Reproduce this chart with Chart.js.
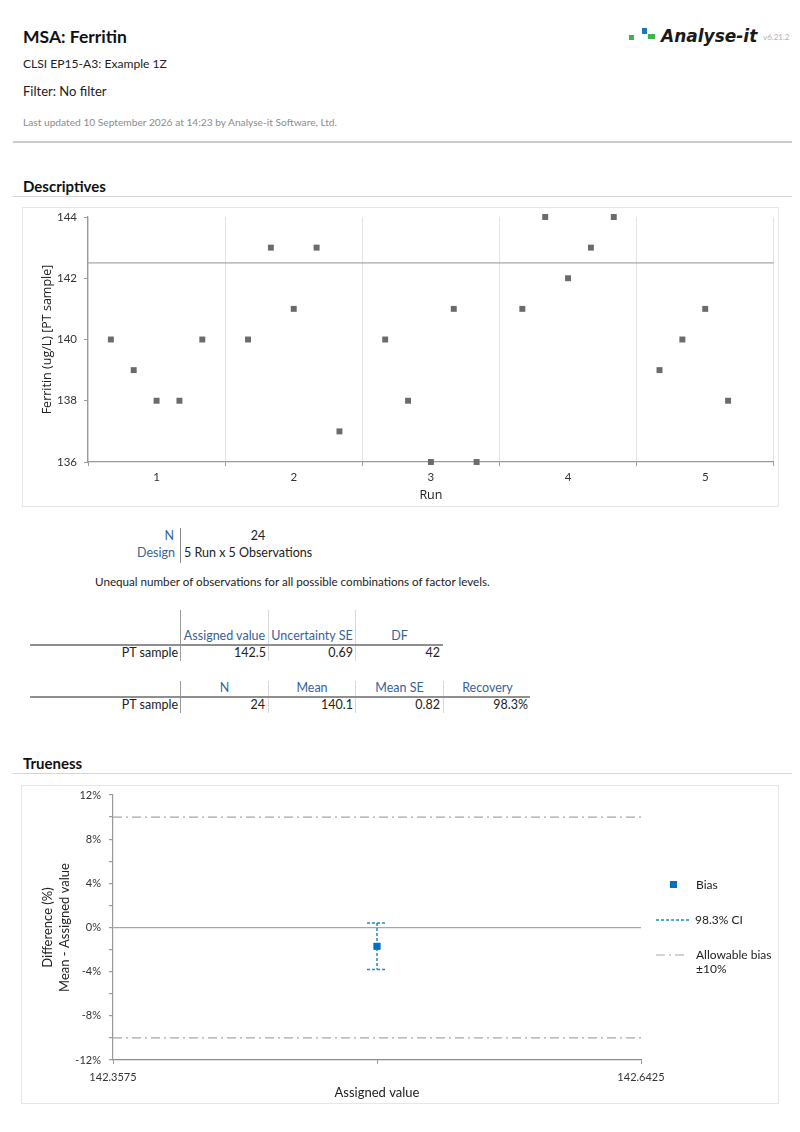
<!DOCTYPE html>
<html>
<head>
<meta charset="utf-8">
<script src="https://cdn.jsdelivr.net/npm/chart.js@4.4.1/dist/chart.umd.min.js"></script>
<style>
  html, body { margin:0; padding:0; background:#fff; }
  #page { position:relative; width:800px; height:1132px; overflow:hidden; font-family:Lato, "Open Sans", sans-serif; color:#222; }
  .t { position:absolute; white-space:nowrap; line-height:16px; height:16px; }
  .r { text-align:right; }
  .c { text-align:center; }
  .blue { color:#36639a; }
  .hl { position:absolute; }
  .box { position:absolute; border:1px solid #e6e6e6; box-sizing:border-box; }
  canvas { position:absolute; }
</style>
</head>
<body>
<div id="page">
  <!-- header -->
  <div class="t" style="left:23px;top:27px;line-height:20px;height:20px;font-size:17.5px;font-weight:700;color:#111;">MSA: Ferritin</div>
  <div class="hl" style="left:629px;top:35px;width:5px;height:5px;background:#3cb44b;"></div>
  <div class="hl" style="left:642px;top:28px;width:5px;height:6px;background:#1b76c4;"></div>
  <div class="hl" style="left:648px;top:34px;width:7px;height:5px;background:#3cb44b;"></div>
  <div class="t" style="left:661px;top:26px;line-height:20px;height:20px;font-size:17px;font-family:'DejaVu Sans';font-weight:700;font-style:oblique;color:#1a1a1a;">Analyse-it</div>
  <div class="t" style="left:763px;top:31px;font-size:8px;line-height:12px;color:#b0b0b0;">v6.21.2</div>
  <div class="t" style="left:23px;top:56px;font-size:12.1px;">CLSI EP15-A3: Example 1Z</div>
  <div class="t" style="left:23px;top:83px;font-size:13px;">Filter: No filter</div>
  <div class="t" style="left:23px;top:114px;font-size:10.2px;color:#8c8c8c;">Last updated 10 September 2026 at 14:23 by Analyse-it Software, Ltd.</div>
  <div class="hl" style="left:13px;top:141px;width:779px;height:2px;background:#cccccc;"></div>

  <div class="t" style="left:23px;top:177px;line-height:18px;height:18px;font-size:15px;font-weight:700;color:#111;">Descriptives</div>
  <div class="hl" style="left:13px;top:196px;width:779px;height:1px;background:#d6d6d6;"></div>

  <div class="box" style="left:22px;top:207px;width:757px;height:300px;"></div>
  <canvas id="c1" width="755" height="298" style="left:23px;top:208px;"></canvas>

  <!-- N / Design -->
  <div class="t r blue" style="left:100px;width:74px;top:528px;font-size:12.5px;">N</div>
  <div class="hl" style="left:180px;top:528px;width:1px;height:35px;background:#8a8a8a;"></div>
  <div class="t c" style="left:181px;width:154px;top:528px;font-size:12.5px;">24</div>
  <div class="t r blue" style="left:100px;width:75px;top:545px;font-size:12.5px;">Design</div>
  <div class="t" style="left:184px;top:545px;font-size:12.5px;">5 Run x 5 Observations</div>
  <div class="t" style="left:95px;top:574px;font-size:11.65px;">Unequal number of observations for all possible combinations of factor levels.</div>

  <!-- table 1 -->
  <div class="hl" style="left:180px;top:610px;width:1px;height:51px;background:#9a9a9a;"></div>
  <div class="hl" style="left:268px;top:610px;width:1px;height:51px;background:#d8d8d8;"></div>
  <div class="hl" style="left:355px;top:610px;width:1px;height:51px;background:#d8d8d8;"></div>
  <div class="hl" style="left:30px;top:644px;width:413px;height:2px;background:#8f8f8f;"></div>
  <div class="t c blue" style="left:181px;width:87px;top:628px;font-size:12.5px;">Assigned value</div>
  <div class="t c blue" style="left:269px;width:86px;top:628px;font-size:12.5px;">Uncertainty SE</div>
  <div class="t c blue" style="left:356px;width:87px;top:628px;font-size:12.5px;">DF</div>
  <div class="t r" style="left:60px;width:118px;top:645px;font-size:12.5px;">PT sample</div>
  <div class="t r" style="left:181px;width:85px;top:645px;font-size:12.5px;">142.5</div>
  <div class="t r" style="left:269px;width:84px;top:645px;font-size:12.5px;">0.69</div>
  <div class="t r" style="left:356px;width:84px;top:645px;font-size:12.5px;">42</div>

  <!-- table 2 -->
  <div class="hl" style="left:180px;top:681px;width:1px;height:32px;background:#9a9a9a;"></div>
  <div class="hl" style="left:268px;top:681px;width:1px;height:32px;background:#d8d8d8;"></div>
  <div class="hl" style="left:355px;top:681px;width:1px;height:32px;background:#d8d8d8;"></div>
  <div class="hl" style="left:443px;top:681px;width:1px;height:32px;background:#d8d8d8;"></div>
  <div class="hl" style="left:30px;top:696px;width:500px;height:2px;background:#8f8f8f;"></div>
  <div class="t c blue" style="left:181px;width:87px;top:680px;font-size:12.5px;">N</div>
  <div class="t c blue" style="left:269px;width:86px;top:680px;font-size:12.5px;">Mean</div>
  <div class="t c blue" style="left:356px;width:87px;top:680px;font-size:12.5px;">Mean SE</div>
  <div class="t c blue" style="left:444px;width:87px;top:680px;font-size:12.5px;">Recovery</div>
  <div class="t r" style="left:60px;width:118px;top:697px;font-size:12.5px;">PT sample</div>
  <div class="t r" style="left:181px;width:84px;top:697px;font-size:12.5px;">24</div>
  <div class="t r" style="left:269px;width:84px;top:697px;font-size:12.5px;">140.1</div>
  <div class="t r" style="left:356px;width:84px;top:697px;font-size:12.5px;">0.82</div>
  <div class="t r" style="left:444px;width:84px;top:697px;font-size:12.5px;">98.3%</div>

  <div class="t" style="left:23px;top:754px;line-height:18px;height:18px;font-size:15px;font-weight:700;color:#111;">Trueness</div>
  <div class="hl" style="left:13px;top:773px;width:779px;height:1px;background:#d6d6d6;"></div>

  <div class="box" style="left:21px;top:785px;width:758px;height:319px;"></div>
  <canvas id="c2" width="758" height="317" style="left:21px;top:786px;"></canvas>

  <!-- legend for trueness -->
  <div class="hl" style="left:670px;top:881px;width:7px;height:7px;background:#0070c0;"></div>
  <div class="t" style="left:696px;top:877px;font-size:12px;">Bias</div>
  <svg class="hl" style="left:655px;top:916px;" width="38" height="8"><line x1="1" y1="4" x2="36" y2="4" stroke="#1f8dc6" stroke-width="1.5" stroke-dasharray="3,2"/></svg>
  <div class="t" style="left:695px;top:912px;font-size:12px;">98.3% CI</div>
  <svg class="hl" style="left:655px;top:951px;" width="34" height="8"><line x1="1" y1="4" x2="33" y2="4" stroke="#a6a6a6" stroke-width="1.2" stroke-dasharray="9,4,2,4"/></svg>
  <div class="t" style="left:696px;top:947px;font-size:12px;">Allowable bias</div>
  <div class="t" style="left:696px;top:961px;font-size:12px;">±10%</div>
</div>

<script>
// ---------- data ----------
const runLabels = ['1', '2', '3', '4', '5'];
const run1Values = [140, 139, 138, 138, 140];
const run2Values = [140, 143, 141, 143, 137];
const run3Values = [140, 138, 136, 141, 136];
const run4Values = [141, 144, 142, 143, 144];
const run5Values = [139, 140, 141, 138];
const ferritinRange = [136, 144];
const ferritinTickStep = 2;
const assignedValue = 142.5;

const biasPct = [-1.7];
const ciUpperPct = [0.4];
const ciLowerPct = [-3.8];
const allowableBiasPct = 10;
const assignedAxisRange = [142.3575, 142.6425];
const assignedAxisLabels = ['142.3575', '', '142.6425'];
const differenceRange = [-12, 12];
const differenceTickStep = 2;
const differenceLabelStep = 4;

// ---------- chart 1 ----------
const slotSpacing = 1 / 6;
const allRuns = [run1Values, run2Values, run3Values, run4Values, run5Values];
const obsPoints = [];
allRuns.forEach((vals, ri) => {
  vals.forEach((v, j) => obsPoints.push({ x: (ri + 1) + (j - 2) * slotSpacing, y: v }));
});
const xMin1 = 0.5, xMax1 = runLabels.length + 0.5;

const AXIS_COL = '#9a9a9a';
const zeroPad = (s) => { s.paddingTop = 0; s.paddingBottom = 0; s.paddingLeft = 0; s.paddingRight = 0; };

new Chart(document.getElementById('c1'), {
  type: 'scatter',
  data: {
    datasets: [
      {
        data: obsPoints, clip: false,
        pointStyle: 'rect', pointRadius: 4.2, pointHoverRadius: 4.2,
        backgroundColor: '#6b6b6b', borderWidth: 0
      },
      {
        type: 'line',
        data: [{ x: xMin1, y: assignedValue }, { x: xMax1, y: assignedValue }],
        borderColor: '#a8a8a8', borderWidth: 1.2, pointRadius: 0, fill: false
      }
    ]
  },
  options: {
    responsive: false, animation: false, devicePixelRatio: 1,
    layout: { padding: { left: 17, right: 2, top: 9, bottom: 3 } },
    plugins: { legend: { display: false }, tooltip: { enabled: false } },
    scales: {
      x: {
        type: 'linear', min: xMin1, max: xMax1,
        afterBuildTicks: (s) => {
          const t = [];
          for (let v = xMin1; v <= xMax1 + 1e-9; v += 0.5) t.push({ value: v });
          s.ticks = t;
        },
        afterFit: (s) => { s.height = 41; zeroPad(s); },
        ticks: {
          autoSkip: false, maxRotation: 0, padding: 4.4, color: '#333', font: { family: 'Lato', size: 11.5 },
          callback: (v) => Number.isInteger(v) ? runLabels[v - 1] : ''
        },
        grid: {
          drawOnChartArea: true, tickLength: 4, lineWidth: 1,
          color: (c) => (c.tick && Number.isInteger(c.tick.value)) ? 'rgba(0,0,0,0)' : '#e3e3e3',
          tickColor: (c) => (c.tick && Number.isInteger(c.tick.value)) ? 'rgba(0,0,0,0)' : AXIS_COL
        },
        border: { color: AXIS_COL, width: 1.2 },
        title: { display: true, text: 'Run', color: '#222', font: { family: 'Open Sans', size: 12.5, lineHeight: 1.2 }, padding: 0 }
      },
      y: {
        min: ferritinRange[0], max: ferritinRange[1],
        afterFit: (s) => { s.width = 48; zeroPad(s); },
        ticks: { stepSize: ferritinTickStep, padding: 7, color: '#333', font: { family: 'Lato', size: 11.5 } },
        grid: { drawOnChartArea: false, tickLength: 4, tickColor: AXIS_COL },
        border: { color: AXIS_COL, width: 1.2 },
        title: { display: true, text: 'Ferritin (ug/L) [PT sample]', color: '#222', font: { family: 'Open Sans', size: 12.5, lineHeight: 1.2 }, padding: 0 }
      }
    }
  }
});

// ---------- chart 2 ----------
const errorBarPlugin = {
  id: 'errorBars',
  afterDatasetsDraw(chart) {
    const { ctx, scales: { x, y } } = chart;
    ctx.save();
    ctx.strokeStyle = '#1f8dc6';
    ctx.lineWidth = 1.5;
    ctx.setLineDash([3, 2]);
    biasPct.forEach((b, i) => {
      const px = x.getPixelForValue(assignedValue);
      const pyTop = y.getPixelForValue(ciUpperPct[i]);
      const pyBot = y.getPixelForValue(ciLowerPct[i]);
      const cap = 10;
      ctx.beginPath();
      ctx.moveTo(px, pyTop); ctx.lineTo(px, pyBot);
      ctx.moveTo(px - cap, pyTop); ctx.lineTo(px + cap, pyTop);
      ctx.moveTo(px - cap, pyBot); ctx.lineTo(px + cap, pyBot);
      ctx.stroke();
    });
    ctx.restore();
    const meta = chart.getDatasetMeta(0);
    meta.data.forEach(p => p.draw(ctx, chart.chartArea));
  }
};

const xMin2 = assignedAxisRange[0], xMax2 = assignedAxisRange[1];
new Chart(document.getElementById('c2'), {
  type: 'scatter',
  data: {
    datasets: [
      {
        label: 'Bias', clip: false,
        data: biasPct.map(b => ({ x: assignedValue, y: b })),
        pointStyle: 'rect', pointRadius: 4.8, pointHoverRadius: 4.8,
        backgroundColor: '#0070c0', borderWidth: 0
      },
      {
        type: 'line', label: 'Allowable bias +',
        data: [{ x: xMin2, y: allowableBiasPct }, { x: xMax2, y: allowableBiasPct }],
        borderColor: '#a6a6a6', borderWidth: 1.2, borderDash: [9, 4, 2, 4], pointRadius: 0, fill: false
      },
      {
        type: 'line', label: 'Allowable bias -',
        data: [{ x: xMin2, y: -allowableBiasPct }, { x: xMax2, y: -allowableBiasPct }],
        borderColor: '#a6a6a6', borderWidth: 1.2, borderDash: [9, 4, 2, 4], pointRadius: 0, fill: false
      }
    ]
  },
  options: {
    responsive: false, animation: false, devicePixelRatio: 1,
    layout: { padding: { left: 18.5, right: 138, top: 9, bottom: 2.8 } },
    plugins: { legend: { display: false }, tooltip: { enabled: false } },
    scales: {
      x: {
        type: 'linear', min: xMin2, max: xMax2,
        afterBuildTicks: (s) => { s.ticks = [xMin2, assignedValue, xMax2].map(v => ({ value: v })); },
        afterFit: (s) => { s.height = 40.2; zeroPad(s); },
        ticks: {
          autoSkip: false, maxRotation: 0, padding: 6.4, color: '#333', font: { family: 'Lato', size: 11 },
          callback: (v, i) => assignedAxisLabels[i]
        },
        grid: { drawOnChartArea: false, tickLength: 4, tickColor: AXIS_COL },
        border: { color: '#8c8c8c', width: 1.2 },
        title: { display: true, text: 'Assigned value', color: '#222', font: { family: 'Lato', size: 13, lineHeight: 1.2 }, padding: 0 }
      },
      y: {
        min: differenceRange[0], max: differenceRange[1],
        afterFit: (s) => { s.width = 73.5; zeroPad(s); },
        ticks: {
          stepSize: differenceTickStep, autoSkip: false, padding: 8, color: '#333', font: { family: 'Lato', size: 11 },
          callback: (v) => (v % differenceLabelStep === 0) ? v + '%' : ''
        },
        grid: {
          drawOnChartArea: true, tickLength: 4, lineWidth: 1.2,
          color: (c) => (c.tick && c.tick.value === 0) ? '#a6a6a6' : 'rgba(0,0,0,0)',
          tickColor: AXIS_COL
        },
        border: { color: AXIS_COL, width: 1.2 },
        title: {
          display: true, text: ['Difference (%)', 'Mean - Assigned value'], color: '#222',
          font: { family: 'Lato', size: 13, lineHeight: '17px' }, padding: 0
        }
      }
    }
  },
  plugins: [errorBarPlugin]
});
</script>
</body>
</html>
